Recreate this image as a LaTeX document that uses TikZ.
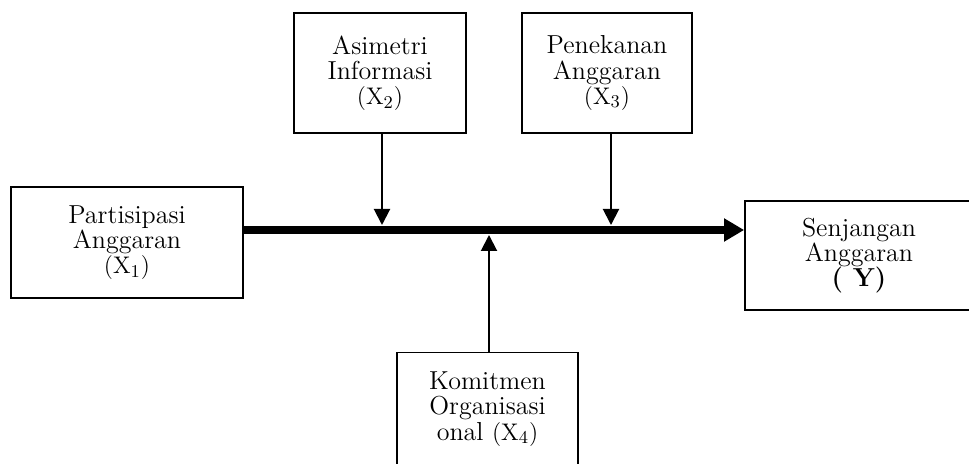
\documentclass[tikz,border=0pt]{standalone}
\usetikzlibrary{arrows.meta}
\tikzset{
	kotak/.style={draw, line width=0.9pt, align=center, inner sep=0pt,
		font=\fontsize{13}{12.6}\selectfont},
	panah/.style={-{Triangle[length=8pt,width=8pt]}, line width=1pt},
	utama/.style={-{Triangle[length=10pt,width=11pt]}, line width=4pt}
}
\begin{document}
\begin{tikzpicture}[x=0.5pt, y=-0.5pt]
			\useasboundingbox (0,0) rectangle (969,464);
			% kotak variabel
			\node[kotak, minimum width=116pt, minimum height=55.5pt] (partisipasi) at (127,242.5)
				{Partisipasi\\Anggaran\\$(\mathrm{X}_1)$};
			\node[kotak, minimum width=86pt, minimum height=60pt] (asimetri) at (380,73)
				{Asimetri\\Informasi\\$(\mathrm{X}_2)$};
			\node[kotak, minimum width=85pt, minimum height=60pt] (penekanan) at (607,73)
				{Penekanan\\Anggaran\\$(\mathrm{X}_3)$};
			\node[kotak, minimum width=90.5pt, minimum height=56.5pt] (komitmen) at (487.5,409)
				{Komitmen\\Organisasi\\onal $(\mathrm{X}_4)$};
			\node[kotak, minimum width=114pt, minimum height=54.5pt] (senjangan) at (859,255.5)
				{Senjangan\\Anggaran\\\textbf{( Y)}};
			% garis utama
			\coordinate (awal) at (partisipasi.east |- 0,230);
			\coordinate (akhir) at (senjangan.west |- 0,230);
			\draw[utama] (awal) -- (akhir);
			% panah moderasi
			\coordinate (m2) at (382,225);
			\coordinate (m3) at (611,225);
			\coordinate (m4) at (489,235);
			\draw[panah] (asimetri.south -| m2) -- (m2);
			\draw[panah] (penekanan.south -| m3) -- (m3);
			\draw[panah] (komitmen.north -| m4) -- (m4);
	\end{tikzpicture}
\end{document}
